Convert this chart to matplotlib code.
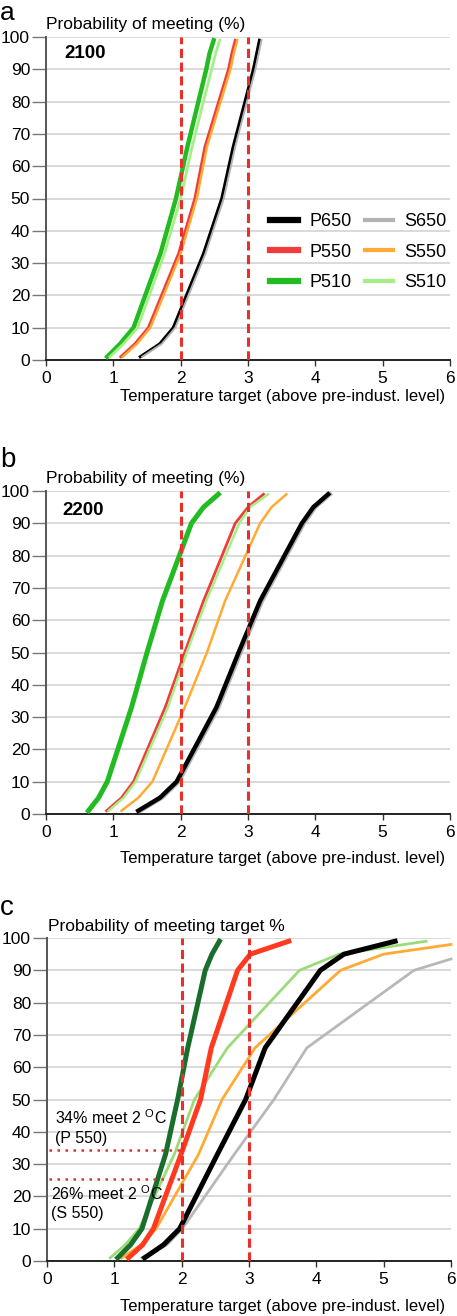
import matplotlib
matplotlib.use("Agg")
import matplotlib.pyplot as plt

plt.rcParams['font.family'] = ['Liberation Sans', 'DejaVu Sans']

W, H = 457, 1316

# probability levels (%) at which each curve is given
levels = [1, 5, 10, 33, 50, 66, 90, 95, 99]

# panel a, 2100: temperature (deg C) reaching each level
a_P650 = [1.40, 1.69, 1.89, 2.34, 2.61, 2.78, 3.08, 3.13, 3.17]
a_S650 = [1.43, 1.72, 1.92, 2.37, 2.64, 2.81, 3.11, 3.16, 3.20]
a_P550 = [1.11, 1.32, 1.52, 1.97, 2.21, 2.36, 2.71, 2.76, 2.81]
a_S550 = [1.14, 1.35, 1.55, 2.00, 2.24, 2.39, 2.74, 2.79, 2.84]
a_P510 = [0.91, 1.10, 1.30, 1.70, 1.93, 2.10, 2.38, 2.43, 2.49]
a_S510 = [0.95, 1.15, 1.36, 1.76, 2.00, 2.17, 2.46, 2.52, 2.58]

# panel b, 2200
b_P650 = [1.37, 1.69, 1.94, 2.53, 2.86, 3.18, 3.80, 3.97, 4.19]
b_S650 = [1.40, 1.72, 1.97, 2.56, 2.89, 3.21, 3.83, 4.00, 4.22]
b_P550 = [0.90, 1.12, 1.30, 1.77, 2.06, 2.34, 2.81, 3.00, 3.23]
b_S550 = [1.12, 1.37, 1.58, 2.06, 2.39, 2.66, 3.18, 3.35, 3.57]
b_P510 = [0.63, 0.78, 0.91, 1.27, 1.50, 1.73, 2.16, 2.34, 2.56]
b_S510 = [0.93, 1.15, 1.33, 1.81, 2.09, 2.38, 2.87, 3.03, 3.30]

# panel c
c_P650 = [1.45, 1.73, 1.97, 2.53, 2.95, 3.24, 4.06, 4.41, 5.17]
c_S650 = [1.41, 1.78, 2.01, 2.78, 3.37, 3.86, 5.45, 6.0]
c_S650_lv = [1, 5, 10, 33, 50, 66, 90, 93.5]
c_P550 = [1.21, 1.42, 1.58, 1.99, 2.28, 2.44, 2.83, 3.02, 3.59]
c_S550 = [1.11, 1.40, 1.62, 2.25, 2.60, 3.09, 4.36, 5.00, 6.0]
c_S550_lv = [1, 5, 10, 33, 50, 66, 90, 95, 98]
c_P510 = [1.05, 1.24, 1.41, 1.76, 1.94, 2.09, 2.35, 2.45, 2.56]
c_S510 = [0.94, 1.16, 1.37, 1.89, 2.19, 2.68, 3.75, 4.34, 5.63]

names_P = ['P650', 'P550', 'P510']
names_S = ['S650', 'S550', 'S510']
col_ab = {'P650': 'black', 'S650': '#b3b3b3', 'P550': '#f03c3c',
          'S550': '#ffaa33', 'P510': '#22bb22', 'S510': '#a6ef86'}
col_c = {'P650': 'black', 'S650': '#b8b8b8', 'P550': '#ff3a1f',
         'S550': '#ffaa33', 'P510': '#1a6e2c', 'S510': '#9bdc78'}


def px_rect(l, t, r, b):
    return [l / W, 1 - b / H, (r - l) / W, (b - t) / H]


def setup(ax, title, top, bottom, xlab_off, title_x=46):
    ax.set_xlim(0, 6)
    ax.set_ylim(0, 100)
    ax.set_xticks(range(7))
    ax.set_yticks(range(0, 101, 10))
    ax.yaxis.grid(True, color='#d0d0d0', lw=1.1)
    ax.set_axisbelow(True)
    for s in ['top', 'right']:
        ax.spines[s].set_visible(False)
    ax.spines['left'].set_color('#555555')
    ax.spines['left'].set_linewidth(1.4)
    ax.spines['bottom'].set_color('#222222')
    ax.spines['bottom'].set_linewidth(1.4)
    ax.tick_params(axis='y', length=10, width=1, color='#777777', pad=1.5, labelsize=12.5)
    ax.tick_params(axis='x', length=4, width=1, color='#333333', pad=4, labelsize=12.5)
    fig.text(title_x / W, 1 - (top - 12) / H, title, fontsize=12.5, va='center', ha='left')
    fig.text(283 / W, 1 - (bottom + xlab_off) / H, 'Temperature target (above pre-indust. level)',
             fontsize=12, va='center', ha='center')
    for x in (2, 3):
        ax.axvline(x, color='#e8302a', lw=2.2, ls=(0, (3, 1.5)), zorder=4)


fig = plt.figure(figsize=(W / 100, H / 100), dpi=100)

# ---- panel a
ax = fig.add_axes(px_rect(46, 37, 450, 360))
setup(ax, 'Probability of meeting (%)', 37, 360, 36)
a_data = {'P650': a_P650, 'S650': a_S650, 'P550': a_P550,
          'S550': a_S550, 'P510': a_P510, 'S510': a_S510}
lw_a = {'P650': 2.2, 'S650': 1.4, 'P550': 2.0, 'S550': 1.8, 'P510': 3.2, 'S510': 2.0}
for n in ['P650', 'S650', 'P550', 'S550', 'P510', 'S510']:
    ax.plot(a_data[n], levels, color=col_ab[n], lw=lw_a[n], clip_on=False, zorder=3)
leg_h = [plt.Line2D([], [], color=col_ab[n], lw=4.5 if n[0] == 'P' else 3) for n in names_P + names_S]
ax.legend(leg_h, names_P + names_S, ncol=2, loc='center right', bbox_to_anchor=(0.99, 0.334),
          frameon=False, fontsize=13, handlelength=1.55, columnspacing=0.75,
          labelspacing=0.75, handletextpad=0.6, borderpad=0, borderaxespad=0)
ax.text(0.28, 95, '2100', fontsize=13.5, fontweight='bold', va='center')
fig.text(0 / W, 1 - 0.5 / H, 'a', fontsize=19, va='top', ha='left')

# ---- panel b
ax = fig.add_axes(px_rect(46, 491, 450, 814))
setup(ax, 'Probability of meeting (%)', 491, 814, 44)
b_data = {'P650': b_P650, 'S650': b_S650, 'P550': b_P550,
          'S550': b_S550, 'P510': b_P510, 'S510': b_S510}
lw_b = {'S650': 3.0, 'P650': 3.2, 'S550': 1.8, 'S510': 1.8, 'P550': 2.0, 'P510': 3.6}
for n in ['S650', 'P650', 'S550', 'P550', 'S510', 'P510']:
    ax.plot(b_data[n], levels, color=col_ab[n], lw=lw_b[n], clip_on=False, zorder=3)
ax.text(0.25, 94, '2200', fontsize=13.5, fontweight='bold', va='center')
fig.text(0 / W, 1 - 467 / H, 'b', fontsize=20, va='baseline', ha='left')

# ---- panel c
ax = fig.add_axes(px_rect(47, 938, 451, 1261))
setup(ax, 'Probability of meeting target %', 938, 1261, 46, title_x=48)
ax.plot(c_S650, c_S650_lv, color=col_c['S650'], lw=2.0, clip_on=False, zorder=3)
ax.plot(c_S550, c_S550_lv, color=col_c['S550'], lw=2.0, clip_on=False, zorder=3)
ax.plot(c_S510, levels, color=col_c['S510'], lw=2.0, clip_on=False, zorder=3)
ax.plot(c_P650, levels, color=col_c['P650'], lw=3.6, clip_on=False, zorder=3)
ax.plot(c_P550, levels, color=col_c['P550'], lw=3.6, clip_on=False, zorder=3)
ax.plot(c_P510, levels, color=col_c['P510'], lw=3.6, clip_on=False, zorder=3)
ax.hlines([34.5, 25.3], 0.03, 2, color='#e03030', lw=1.8, ls=(0, (1, 2.2)), zorder=4)
ax.text(0.12, 44.5, r'34% meet 2 $^{\mathregular{O}}$C', fontsize=11.5, va='center')
ax.text(0.12, 38.0, '(P 550)', fontsize=11.5, va='center')
ax.text(0.06, 21.0, r'26% meet 2 $^{\mathregular{O}}$C', fontsize=11.5, va='center')
ax.text(0.06, 14.8, '(S 550)', fontsize=11.5, va='center')
fig.text(0 / W, 1 - 915 / H, 'c', fontsize=20, va='baseline', ha='left')

fig.savefig('out.png', dpi=100)
